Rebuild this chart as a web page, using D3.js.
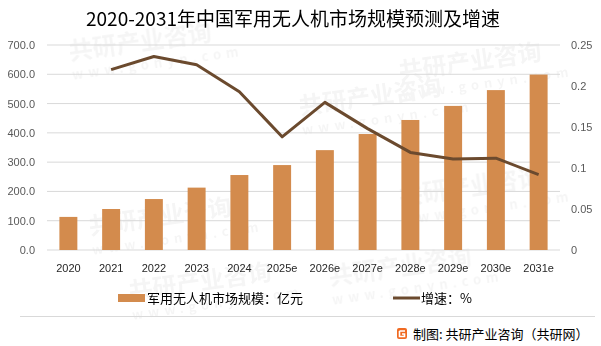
<!DOCTYPE html>
<html><head><meta charset="utf-8">
<script src="https://cdn.jsdelivr.net/npm/d3@7"></script>
<style>
body{margin:0;background:#fff;}
svg{display:block;font-family:"Noto Sans CJK SC","Microsoft YaHei",sans-serif;}
</style></head>
<body>
<svg id="c" width="601" height="346"></svg>
<script>
const categories = ["2020","2021","2022","2023","2024","2025e","2026e","2027e","2028e","2029e","2030e","2031e"];
const marketSize = [113, 140, 174, 213, 256, 290, 341, 396, 444, 492, 546, 599];
const growth = [null, 0.220, 0.236, 0.226, 0.193, 0.138, 0.180, 0.148, 0.119, 0.111, 0.112, 0.092];
const leftTicks = [0,100,200,300,400,500,600,700];
const rightTicks = [0,0.05,0.1,0.15,0.2,0.25];
const title = "2020-2031年中国军用无人机市场规模预测及增速";
const barName = "军用无人机市场规模：亿元";
const lineName = "增速：%";
const footer = "制图: 共研产业咨询（共研网）";

const svg = d3.select("#c");
const barColor = "#D38B4D", lineColor = "#6B4A2E";
const x0 = 47, x1 = 560, yTop = 45, yBot = 250;

const x = d3.scaleBand().domain(categories).range([x0, x1]).paddingInner(0.58).paddingOuter(0.29);
const xc = d3.scaleBand().domain(categories).range([x0, x1]);
const yL = d3.scaleLinear().domain([0,700]).range([yBot, yTop]);
const yR = d3.scaleLinear().domain([0,0.25]).range([yBot, yTop]);

// watermarks
const wm = svg.append("g").attr("fill","#000").attr("opacity",0.04).attr("font-weight","bold");
[[70,60],[90,235],[300,115],[130,300],[330,285],[400,80],[400,205]].forEach(([a,b])=>{
  const g = wm.append("g").attr("transform",`translate(${a},${b}) rotate(-8)`);
  g.append("text").attr("font-size",24).text("共研产业咨询");
  g.append("text").attr("y",20).attr("font-size",13).attr("letter-spacing",5).text("www.gonyn.com");
});

// gridlines
svg.append("g").selectAll("line").data(leftTicks).join("line")
  .attr("x1",x0).attr("x2",x1).attr("y1",d=>yL(d)).attr("y2",d=>yL(d))
  .attr("stroke","#d9d9d9").attr("stroke-width",1);

// left axis
const la = svg.append("g").attr("transform",`translate(${x0},0)`)
  .call(d3.axisLeft(yL).tickValues(leftTicks).tickFormat(d3.format(".1f")).tickSize(0).tickPadding(12));
la.select(".domain").remove();
la.selectAll("text").attr("font-size",11).attr("fill","#595959").attr("font-family","Liberation Sans, Arial, sans-serif");

// right axis
const ra = svg.append("g").attr("transform",`translate(${x1},0)`)
  .call(d3.axisRight(yR).tickValues(rightTicks).tickFormat(d=>String(d)).tickSize(0).tickPadding(11));
ra.select(".domain").remove();
ra.selectAll("text").attr("font-size",11).attr("fill","#595959").attr("font-family","Liberation Sans, Arial, sans-serif");

// x axis
const xa = svg.append("g").attr("transform",`translate(0,${yBot})`)
  .call(d3.axisBottom(xc).tickSize(0).tickPadding(14));
xa.select(".domain").remove();
xa.selectAll("text").attr("font-size",11).attr("fill","#262626").attr("font-family","Liberation Sans, Arial, sans-serif");

// bars
svg.append("g").selectAll("rect").data(categories).join("rect")
  .attr("x",d=>x(d)).attr("width",x.bandwidth())
  .attr("y",(d,i)=>yL(marketSize[i])).attr("height",(d,i)=>yBot-yL(marketSize[i]))
  .attr("fill",barColor);

// line
const pts = categories.map((c,i)=>({c,v:growth[i]}));
svg.append("path").datum(pts)
  .attr("d", d3.line().defined(d=>d.v!=null).x(d=>xc(d.c)+xc.bandwidth()/2).y(d=>yR(d.v)))
  .attr("fill","none").attr("stroke",lineColor).attr("stroke-width",3).attr("stroke-linejoin","round");

// title
svg.append("text").attr("x",293).attr("y",26).attr("text-anchor","middle")
  .attr("font-size",19).attr("fill","#000").text(title);

// legend
svg.append("rect").attr("x",118).attr("y",294).attr("width",27).attr("height",8).attr("fill",barColor);
svg.append("text").attr("x",147).attr("y",303).attr("font-size",13).attr("fill","#000").text(barName);
svg.append("line").attr("x1",393).attr("x2",420).attr("y1",298).attr("y2",298).attr("stroke",lineColor).attr("stroke-width",3);
svg.append("text").attr("x",421).attr("y",303).attr("font-size",13).attr("fill","#000").text(lineName);

// separator
svg.append("line").attr("x1",20).attr("x2",595).attr("y1",316.5).attr("y2",316.5).attr("stroke","#d9d9d9");

// footer icon
const ic = svg.append("g").attr("transform","translate(397,328)");
ic.append("rect").attr("width",10).attr("height",11).attr("rx",2).attr("fill","#F06A22");
ic.append("path").attr("d","M2.5,3 H8 M2.5,3 V8.5 H7.5 V6 H5").attr("stroke","#fff").attr("stroke-width",1.6).attr("fill","none");
svg.append("text").attr("x",413).attr("y",339).attr("font-size",13).attr("fill","#000").text(footer);
</script>
</body></html>
